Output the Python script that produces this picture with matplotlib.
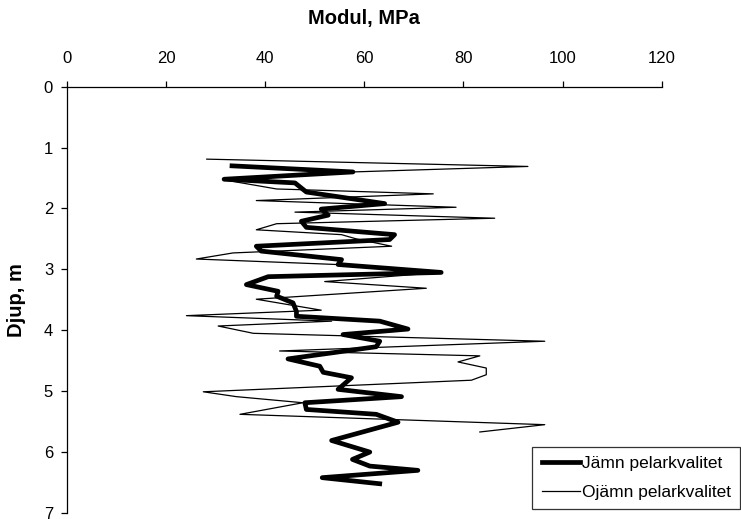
import numpy as np
import matplotlib
matplotlib.use("Agg")
import matplotlib.pyplot as plt

plt.rcParams['font.family'] = ['Liberation Sans', 'DejaVu Sans']

# Jämn pelarkvalitet (modul MPa, djup m)
jamn_mod = [33.3, 57.7, 31.7, 46.0, 48.3, 64.1, 51.3, 52.7, 47.3, 48.3, 66.1, 65.1,
            38.2, 39.2, 55.4, 54.7, 75.5, 40.6, 36.2, 42.6, 42.3, 45.6, 46.3, 46.3,
            63.1, 68.8, 55.7, 63.1, 62.4, 44.6, 51.0, 51.7, 57.4, 54.7, 67.5, 48.0,
            48.3, 62.4, 66.8, 53.4, 61.1, 57.6, 61.1, 70.8, 51.5, 63.1]
jamn_djup = [1.30, 1.40, 1.52, 1.58, 1.73, 1.92, 2.01, 2.11, 2.21, 2.31, 2.43, 2.51,
             2.62, 2.70, 2.84, 2.92, 3.05, 3.12, 3.25, 3.36, 3.44, 3.55, 3.69, 3.77,
             3.85, 3.98, 4.07, 4.18, 4.27, 4.47, 4.59, 4.69, 4.78, 4.97, 5.09, 5.19,
             5.30, 5.38, 5.51, 5.81, 6.00, 6.12, 6.23, 6.30, 6.42, 6.52]

# Ojämn pelarkvalitet
ojamn_mod = [28.2, 93.0, 57.7, 31.7, 42.3, 46.6, 73.9, 38.2, 78.5, 46.0, 86.3, 42.3,
             38.2, 55.4, 58.4, 65.5, 33.5, 26.1, 54.4, 75.5, 52.0, 72.5, 38.2, 51.3,
             24.1, 53.4, 30.5, 37.6, 96.4, 42.9, 83.3, 78.9, 84.6, 84.6, 81.6, 27.5,
             34.2, 47.6, 34.9, 96.4, 83.3]
ojamn_djup = [1.19, 1.31, 1.40, 1.53, 1.68, 1.69, 1.76, 1.87, 1.98, 2.06, 2.16, 2.25,
              2.35, 2.43, 2.50, 2.62, 2.73, 2.83, 2.92, 3.05, 3.20, 3.31, 3.49, 3.67,
              3.76, 3.85, 3.93, 4.05, 4.18, 4.34, 4.42, 4.52, 4.62, 4.73, 4.82, 5.01,
              5.09, 5.19, 5.38, 5.55, 5.67]

fig = plt.figure(figsize=(7.41, 5.19), dpi=100)
ax = fig.add_axes([0.0904, 0.0116, 0.8026, 0.8214])

ax.plot(jamn_mod, jamn_djup, color='black', linewidth=3.4, solid_joinstyle='round',
        label='Jämn pelarkvalitet')
ax.plot(ojamn_mod, ojamn_djup, color='black', linewidth=0.9,
        label='Ojämn pelarkvalitet')

ax.set_xlim(0, 120)
ax.set_ylim(7, 0)
ax.set_xticks(np.arange(0, 121, 20))
ax.set_yticks(np.arange(0, 8, 1))
ax.xaxis.tick_top()
ax.xaxis.set_label_position('top')
ax.spines['right'].set_visible(False)
ax.spines['bottom'].set_visible(False)
for s in ['top', 'left']:
    ax.spines[s].set_linewidth(0.9)
ax.tick_params(axis='both', direction='out', length=4, width=0.9, labelsize=12)
ax.tick_params(axis='x', pad=11)
ax.tick_params(axis='y', pad=6)
ax.set_xlabel('Modul, MPa', fontsize=14.5, fontweight='bold', labelpad=19)
ax.set_ylabel('Djup, m', fontsize=14.5, fontweight='bold', labelpad=13)

leg = fig.legend(loc='lower right', bbox_to_anchor=(0.999, 0.019), borderaxespad=0,
                 fontsize=12.5, frameon=True, fancybox=False, edgecolor='black',
                 handlelength=2.2, handletextpad=0.1, borderpad=0.55, labelspacing=0.75)
leg.get_frame().set_linewidth(0.9)

plt.savefig('out.png', dpi=100)
